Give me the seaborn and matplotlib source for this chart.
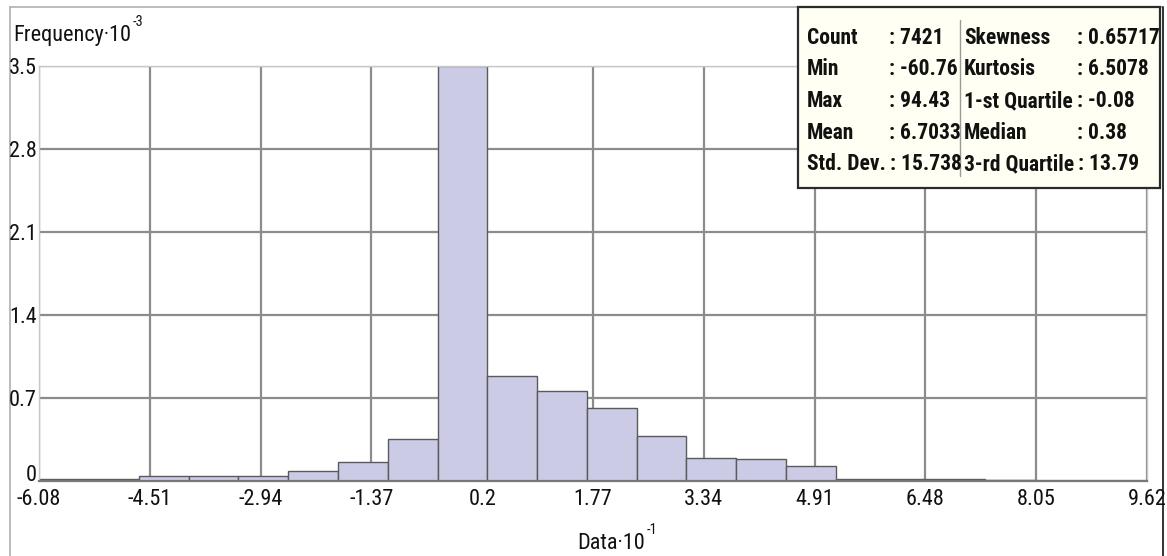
import numpy as np
import pandas as pd
import matplotlib
matplotlib.use("Agg")
import matplotlib.pyplot as plt
import seaborn as sns
from matplotlib.lines import Line2D
from matplotlib.patches import Rectangle
from matplotlib import font_manager as fm

# ---------------- data ----------------
data_min = -6.076
data_max = 9.443
n_bins = 22
bar_heights = [0.015, 0.015, 0.045, 0.04, 0.04, 0.085, 0.163, 0.357, 3.5,
               0.883, 0.76, 0.615, 0.38, 0.197, 0.185, 0.127,
               0.02, 0.02, 0.02, 0.01, 0.003, 0.003]
x_ticks = [-6.08, -4.51, -2.94, -1.37, 0.2, 1.77, 3.34, 4.91, 6.48, 8.05, 9.62]
x_tick_labels = ["-6.08", "-4.51", "-2.94", "-1.37", "0.2", "1.77", "3.34",
                 "4.91", "6.48", "8.05", "9.62"]
y_ticks = [0, 0.7, 1.4, 2.1, 2.8, 3.5]
y_tick_labels = ["0", "0.7", "1.4", "2.1", "2.8", "3.5"]
stats_left_labels = ["Count", "Min", "Max", "Mean", "Std. Dev."]
stats_left_values = ["7421", "-60.76", "94.43", "6.7033", "15.738"]
stats_right_labels = ["Skewness", "Kurtosis", "1-st Quartile", "Median", "3-rd Quartile"]
stats_right_values = ["0.65717", "6.5078", "-0.08", "0.38", "13.79"]
x_label = "Data"
x_label_exp = "-1"
y_label = "Frequency"
y_label_exp = "-3"

# ---------------- fonts ----------------
sns.set_style("white")
plt.rcParams["font.family"] = ["Liberation Sans", "DejaVu Sans"]

PREF = ["liberation sans narrow", "arial narrow", "roboto condensed", "noto sans",
        "open sans", "dejavu sans", "lato", "inter"]


def find_condensed(bold):
    best, best_score = None, None
    for f in fm.fontManager.ttflist:
        p = f.fname.lower()
        n = f.name.lower()
        s = (getattr(f, "style", "normal") or "normal").lower()
        if not ("condensed" in p or "narrow" in p or "condensed" in n or "narrow" in n
                or str(f.stretch) in ("condensed", "semi-condensed", "extra-condensed")):
            continue
        if "italic" in p or "oblique" in p or s != "normal":
            continue
        if "mono" in p or "serif" in n.replace("sans", "") or "cjk" in p:
            continue
        w = f.weight if isinstance(f.weight, int) else (700 if "bold" in str(f.weight) else 400)
        wdiff = abs(w - (700 if bold else 400))
        fam = 99
        for i, k in enumerate(PREF):
            if k in n or k.replace(" ", "") in p:
                fam = i
                break
        width_pen = 0
        if "semi" in p or "extra" in p or "ultra" in p:
            width_pen = 1
        score = (wdiff, width_pen, fam)
        if best_score is None or score < best_score:
            best, best_score = f, score
    if best is not None:
        return fm.FontProperties(fname=best.fname), True
    return fm.FontProperties(family=["Liberation Sans", "DejaVu Sans"],
                             weight="bold" if bold else "normal"), False


fp_reg, cond_ok = find_condensed(False)
fp_bold, cond_ok_b = find_condensed(True)
scale = 1.0 if cond_ok else 0.86
scale_b = 1.0 if cond_ok_b else 0.8

W, H = 1167, 556
fig = plt.figure(figsize=(W / 100, H / 100), dpi=100)
fig.patch.set_facecolor("white")


def fx(px):
    return px / W


def fy(py):
    return 1 - py / H


ax_left, ax_right, ax_top, ax_bottom = 39, 1147, 66, 481
ax = fig.add_axes([fx(ax_left), fy(ax_bottom), fx(ax_right - ax_left), (ax_bottom - ax_top) / H])

edges = np.linspace(data_min, data_max, n_bins + 1)
centers = (edges[:-1] + edges[1:]) / 2
df = pd.DataFrame({"x": centers, "w": bar_heights})

sns.histplot(data=df, x="x", weights="w", bins=n_bins, binrange=(data_min, data_max),
             color="#CBCBE6", alpha=1, edgecolor="#5a5a5a", linewidth=1.0, ax=ax, zorder=2)

ax.set_xlim(x_ticks[0], x_ticks[-1])
ax.set_ylim(0, 3.5)
ax.set_xticks(x_ticks)
ax.set_xticklabels(x_tick_labels)
ax.set_yticks(y_ticks)
ax.set_yticklabels(y_tick_labels)
ax.set_xlabel("")
ax.set_ylabel("")
ax.tick_params(axis="both", length=0, colors="#111111")
ax.tick_params(axis="x", pad=6)
ax.tick_params(axis="y", pad=1.5)
TICK_SIZE = 16 * scale
for lab in ax.get_xticklabels() + ax.get_yticklabels():
    lab.set_fontproperties(fp_reg)
    lab.set_fontsize(TICK_SIZE)
ax.get_yticklabels()[0].set_verticalalignment("baseline")
ax.set_axisbelow(True)
ax.grid(True, color="#8c8c8c", linewidth=1.6)
for side in ["left", "right", "top"]:
    ax.spines[side].set_color("#c8c8c8")
    ax.spines[side].set_linewidth(1.0)
ax.spines["bottom"].set_color("#777777")
ax.spines["bottom"].set_linewidth(1.6)

# figure frame
fig.add_artist(Line2D([fx(10), fx(10)], [0, fy(7)], color="#b0b0b0", lw=1.2, zorder=0))
fig.add_artist(Line2D([fx(10), fx(1163)], [fy(7), fy(7)], color="#b0b0b0", lw=1.2, zorder=0))
fig.add_artist(Line2D([fx(1163), fx(1163)], [0, fy(7)], color="#333333", lw=1.4, zorder=0))

fig.canvas.draw()
renderer = fig.canvas.get_renderer()


def label_with_exp(x_px, y_px, base, exp, size):
    t = fig.text(fx(x_px), fy(y_px), base + "\u00b710", fontproperties=fp_reg,
                 fontsize=size, ha="left", va="baseline", color="#111111")
    bb = t.get_window_extent(renderer=renderer)
    fig.text(bb.x1 / W + fx(2), fy(y_px - 15), exp, fontproperties=fp_reg,
             fontsize=size * 0.65, ha="left", va="baseline", color="#111111")


label_with_exp(13, 41, y_label, y_label_exp, 16 * scale)
label_with_exp(577, 549, x_label, x_label_exp, 16 * scale)

# stats box
box_l, box_r, box_t, box_b = 798, 1160, 7, 188
fig.add_artist(Rectangle((fx(box_l), fy(box_b)), fx(box_r - box_l), (box_b - box_t) / H,
                         facecolor="#FFFFF3", edgecolor="#2b2b2b", lw=1.6, zorder=10))
fig.add_artist(Line2D([fx(960), fx(960)], [fy(20), fy(176)], color="#9a9a9a", lw=1.0, zorder=11))

BOX_SIZE = 15.5 * scale_b
row_y = [44, 75, 107, 139, 170]
cols = [(807, 889, stats_left_labels, stats_left_values),
        (964, 1077, stats_right_labels, stats_right_values)]
for lx, vx, labs, vals in cols:
    for yy, lab, val in zip(row_y, labs, vals):
        t = fig.text(fx(lx), fy(yy), lab, fontproperties=fp_bold, fontsize=BOX_SIZE,
                     ha="left", va="baseline", color="#111111", zorder=12)
        bb = t.get_window_extent(renderer=renderer)
        vxx = max(vx, bb.x1 + 4)
        fig.text(vxx / W, fy(yy), ": " + val, fontproperties=fp_bold, fontsize=BOX_SIZE,
                 ha="left", va="baseline", color="#111111", zorder=12)

fig.savefig("out.png", dpi=100, facecolor="white")
